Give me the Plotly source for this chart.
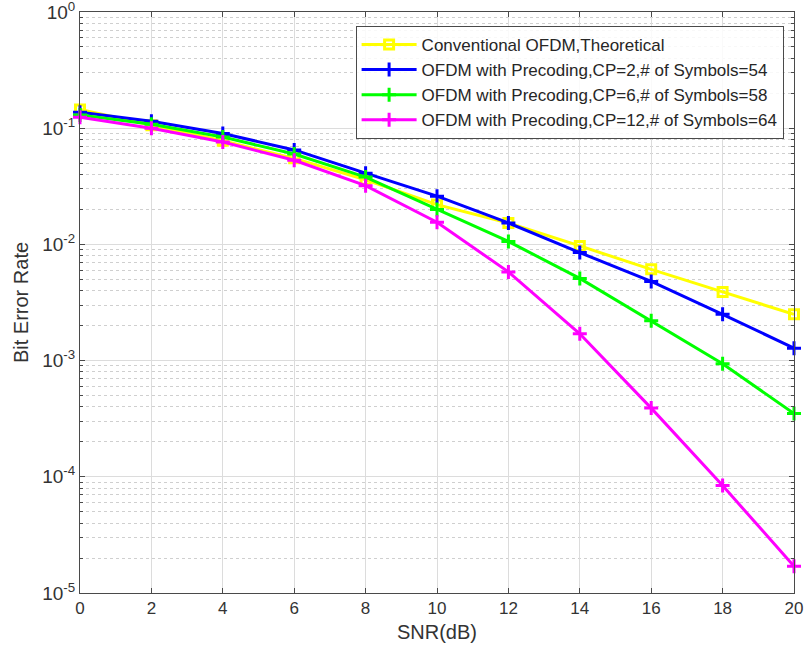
import plotly.graph_objects as go

# SNR sweep (dB)
snr_db = [0, 2, 4, 6, 8, 10, 12, 14, 16, 18, 20]

# Bit error rate for each scheme
ber_theory = [0.145, 0.106, 0.078, 0.055, 0.036, 0.022, 0.0153, 0.0097, 0.0061, 0.0039, 0.0025]
ber_cp2 = [0.137, 0.115, 0.090, 0.065, 0.041, 0.026, 0.0153, 0.0085, 0.0048, 0.0025, 0.00128]
ber_cp6 = [0.130, 0.108, 0.084, 0.060, 0.038, 0.020, 0.0106, 0.0051, 0.0022, 0.00094, 0.00035]
ber_cp12 = [0.124, 0.100, 0.076, 0.053, 0.032, 0.0155, 0.0058, 0.0017, 0.00039, 0.000084, 0.000017]

series_names = [
    "Conventional OFDM,Theoretical",
    "OFDM with Precoding,CP=2,# of Symbols=54",
    "OFDM with Precoding,CP=6,# of Symbols=58",
    "OFDM with Precoding,CP=12,# of Symbols=64",
]
series_colors = ["#ffff00", "#0000ff", "#00ff00", "#ff00ff"]
series_symbols = ["square-open", "cross-thin-open", "cross-thin-open", "cross-thin-open"]

y_tick_vals = [1, 0.1, 0.01, 0.001, 0.0001, 0.00001]
y_tick_text = ["10<sup>0</sup>", "10<sup>-1</sup>", "10<sup>-2</sup>",
               "10<sup>-3</sup>", "10<sup>-4</sup>", "10<sup>-5</sup>"]

fig = go.Figure()
for name, ber, color, sym in zip(series_names, [ber_theory, ber_cp2, ber_cp6, ber_cp12],
                                  series_colors, series_symbols):
    fig.add_trace(go.Scatter(
        x=snr_db, y=ber, name=name, mode="lines+markers",
        line=dict(color=color, width=3),
        marker=dict(symbol=sym, size=10 if sym != "square-open" else 9,
                    color=color, line=dict(color=color, width=3)),
        cliponaxis=False,
    ))

axis_color = "#4a4a4a"
fig.update_layout(
    width=806, height=655,
    margin=dict(l=80, r=12, t=12, b=62),
    paper_bgcolor="white", plot_bgcolor="white",
    font=dict(family="Liberation Sans, Arial, sans-serif", size=17, color="#333333"),
    showlegend=True,
    legend=dict(
        x=0.386, y=0.976, xanchor="left", yanchor="top",
        bgcolor="rgba(255,255,255,0.85)", bordercolor="#4a4a4a", borderwidth=1,
        font=dict(size=17, color="#262626"), tracegroupgap=0,
        itemwidth=55,
    ),
)
fig.update_xaxes(
    range=[0, 20], dtick=2, tick0=0, automargin=False,
    showline=True, linecolor=axis_color, linewidth=1, mirror="ticks",
    ticks="inside", ticklen=5, tickcolor=axis_color,
    showgrid=True, gridcolor="#dcdcdc", gridwidth=1, zeroline=False,
    title=dict(text="SNR(dB)", font=dict(size=20), standoff=7),
    tickfont=dict(size=17), ticklabeloverflow="allow",
)
fig.update_yaxes(
    type="log", range=[-5, 0], automargin=False,
    tickvals=y_tick_vals, ticktext=y_tick_text,
    showline=True, linecolor=axis_color, linewidth=1, mirror="ticks",
    ticks="inside", ticklen=5, tickcolor=axis_color,
    showgrid=True, gridcolor="#dcdcdc", gridwidth=1, zeroline=False,
    minor=dict(dtick="D1", ticks="inside", ticklen=3, tickcolor=axis_color,
               showgrid=True, gridcolor="#cfcfcf", griddash="dot", gridwidth=1),
    title=dict(text="Bit Error Rate", font=dict(size=20), standoff=8),
    tickfont=dict(size=19), ticklabeloverflow="allow",
)

fig.write_html("out.html")
